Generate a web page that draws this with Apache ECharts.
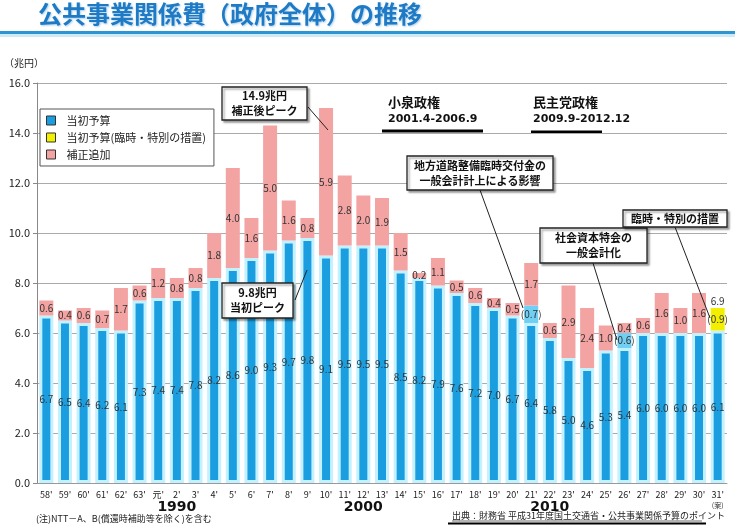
<!DOCTYPE html>
<html><head><meta charset="utf-8">
<script src="https://cdn.jsdelivr.net/npm/echarts@6/dist/echarts.min.js"></script>
<style>html,body{margin:0;padding:0;background:#fff}#c{width:735px;height:526px}</style>
</head><body><div id="c"></div>
<script>
const categories = ["58'","59'","60'","61'","62'","63'","元'","2'","3'","4'","5'","6'","7'","8'","9'","10'","11'","12'","13'","14'","15'","16'","17'","18'","19'","20'","21'","22'","23'","24'","25'","26'","27'","28'","29'","30'","31'"];
const initialBudget = [6.7,6.5,6.4,6.2,6.1,7.3,7.4,7.4,7.8,8.2,8.6,9.0,9.3,9.7,9.8,9.1,9.5,9.5,9.5,8.5,8.2,7.9,7.6,7.2,7.0,6.7,6.4,5.8,5.0,4.6,5.3,5.4,6.0,6.0,6.0,6.0,6.1];
const transferred = [null,null,null,null,null,null,null,null,null,null,null,null,null,null,null,null,null,null,null,null,null,null,null,null,null,null,0.7,null,null,null,null,0.6,null,null,null,null,null];
const specialMeasures = [null,null,null,null,null,null,null,null,null,null,null,null,null,null,null,null,null,null,null,null,null,null,null,null,null,null,null,null,null,null,null,null,null,null,null,null,0.9];
const supplementary = [0.6,0.4,0.6,0.7,1.7,0.6,1.2,0.8,0.8,1.8,4.0,1.6,5.0,1.6,0.8,5.9,2.8,2.0,1.9,1.5,0.2,1.1,0.5,0.6,0.4,0.5,1.7,0.6,2.9,2.4,1.0,0.4,0.6,1.6,1.0,1.6,0];
const planTotalLabel = '6.9';
const yearMarks = {"2'":'1990',"12'":'2000',"22'":'2010'};
const yTicks = [0,2,4,6,8,10,12,14,16];

const FONT = '"Noto Sans CJK JP","Noto Sans",sans-serif';
const C_BLUE = '#1a9ee0', C_PINK = '#f4a3a3', C_YEL = '#f2f000', C_LB = '#70d0f4';

const chart = echarts.init(document.getElementById('c'));
const lbl = {show:true, position:'inside', fontSize:10, color:'#333', fontFamily:FONT};

function box(x,y,w,h,lines){
  return {type:'group', children:[
    {type:'rect', shape:{x:x,y:y,width:w,height:h}, style:{fill:'#fff',stroke:'#222',lineWidth:1.3,shadowColor:'rgba(0,0,0,0.35)',shadowBlur:2,shadowOffsetX:2,shadowOffsetY:2}, z:10},
    {type:'text', x:x+w/2, y:y+h/2, style:{text:lines, align:'center', verticalAlign:'middle', font:'bold 11px '+FONT, fill:'#111', lineHeight:15}, z:11}
  ]};
}
function ln(x1,y1,x2,y2){ return {type:'line', shape:{x1,y1,x2,y2}, style:{stroke:'#222',lineWidth:1}, z:9}; }

chart.setOption({
  animation:false,
  textStyle:{fontFamily:FONT},
  grid:{left:37, right:8, top:83, bottom:43, containLabel:false},
  legend:{
    orient:'vertical', left:40, top:109, padding:[6,8,6,6], itemGap:6,
    borderColor:'#555', borderWidth:1, backgroundColor:'#fff',
    itemWidth:9, itemHeight:9, icon:'rect',
    itemStyle:{borderColor:'#333', borderWidth:1},
    textStyle:{fontSize:11, color:'#222', fontFamily:FONT, padding:[0,0,0,6]},
    data:['当初予算','当初予算(臨時・特別の措置)','補正追加']
  },
  xAxis:{
    type:'category', data:categories,
    axisLine:{show:true, lineStyle:{color:'#999'}}, axisTick:{show:false},
    axisLabel:{
      interval:0, fontSize:9, color:'#222', margin:6, lineHeight:11,
      formatter:function(v){
        if (yearMarks[v]) return v+'\n{y|'+yearMarks[v]+'}';
        if (v==="31'") return v+'\n{s|(案)}';
        return v;
      },
      rich:{y:{fontSize:14, fontWeight:'bold', color:'#111', lineHeight:15, fontFamily:'"DejaVu Sans",sans-serif'}, s:{fontSize:7, color:'#333'}}
    }
  },
  yAxis:{
    type:'value', min:0, max:16, interval:2,
    axisLine:{show:true, lineStyle:{color:'#888'}},
    axisTick:{show:true, length:4, lineStyle:{color:'#888'}},
    splitLine:{lineStyle:{color:'#aaa'}},
    axisLabel:{fontSize:11, color:'#222', margin:7, formatter:v=>v.toFixed(1)}
  },
  series:[
    {name:'当初予算', type:'bar', stack:'t', barWidth:14, data:initialBudget,
      itemStyle:{color:C_BLUE, borderColor:'#c4f1ff', borderWidth:3},
      label:Object.assign({},lbl,{formatter:p=>p.value.toFixed(1)})},
    {name:'移行分', type:'bar', stack:'t', data:transferred,
      itemStyle:{color:C_LB},
      label:Object.assign({},lbl,{formatter:p=>'('+p.value.toFixed(1)+')'})},
    {name:'当初予算(臨時・特別の措置)', type:'bar', stack:'t', data:specialMeasures,
      itemStyle:{color:C_YEL},
      label:Object.assign({},lbl,{formatter:p=>'('+p.value.toFixed(1)+')'})},
    {name:'補正追加', type:'bar', stack:'t', data:supplementary,
      itemStyle:{color:C_PINK},
      label:Object.assign({},lbl,{formatter:function(p){
        if (p.dataIndex===categories.length-1) return '{t|'+planTotalLabel+'}';
        return p.value.toFixed(1);
      }, rich:{t:{fontSize:10,color:'#333',padding:[0,0,14,0]}}})}
  ],
  graphic:[
    {type:'rect', shape:{x:0,y:31,width:735,height:3}, style:{fill:'#2e95d3'}},
    {type:'rect', shape:{x:0,y:34,width:735,height:3}, style:{fill:'#cfeaf7'}},
    {type:'text', x:38, y:2, style:{text:'公共事業関係費（政府全体）の推移', font:'bold 24px '+FONT, fill:'#1f7ac6', textShadowColor:'rgba(120,180,220,0.6)', textShadowBlur:2, textShadowOffsetX:1, textShadowOffsetY:1}},
    {type:'text', x:4, y:58, style:{text:'（兆円）', font:'10px '+FONT, fill:'#222'}},
    box(222,87,85,33,'14.9兆円\n補正後ピーク'), ln(308,107,328,130),
    box(222,283,71,35,'9.8兆円\n当初ピーク'), ln(295,300,307,270),
    box(407,156,146,34,'地方道路整備臨時交付金の\n一般会計計上による影響'), ln(480,190,523,308),
    box(540,228,107,35,'社会資本特会の\n一般会計化'), ln(593,263,617,340),
    box(623,210,104,17,'臨時・特別の措置'), ln(675,227,710,318),
    {type:'text', x:388, y:96, style:{text:'小泉政権', font:'bold 13px '+FONT, fill:'#111'}},
    {type:'text', x:388, y:114, style:{text:'2001.4-2006.9', font:'bold 11px "DejaVu Sans",sans-serif', fill:'#111'}},
    {type:'line', shape:{x1:382,y1:131,x2:483,y2:131}, style:{stroke:'#000',lineWidth:3}},
    {type:'text', x:533, y:96, style:{text:'民主党政権', font:'bold 13px '+FONT, fill:'#111'}},
    {type:'text', x:533, y:114, style:{text:'2009.9-2012.12', font:'bold 11px "DejaVu Sans",sans-serif', fill:'#111'}},
    {type:'line', shape:{x1:531,y1:132,x2:602,y2:132}, style:{stroke:'#000',lineWidth:3}},
    {type:'text', x:36, y:514, style:{text:'(注)NTT－A、B(償還時補助等を除く)を含む', font:'9px '+FONT, fill:'#222'}},
    {type:'text', x:452, y:511, style:{text:'出典：財務省 平成31年度国土交通省・公共事業関係予算のポイント', font:'9px '+FONT, fill:'#222'}},
    {type:'line', shape:{x1:452,y1:521,x2:702,y2:521}, style:{stroke:'#444',lineWidth:0.8}},
    {type:'line', shape:{x1:448,y1:523.5,x2:706,y2:523.5}, style:{stroke:'#000',lineWidth:2}}
  ]
});
</script></body></html>
